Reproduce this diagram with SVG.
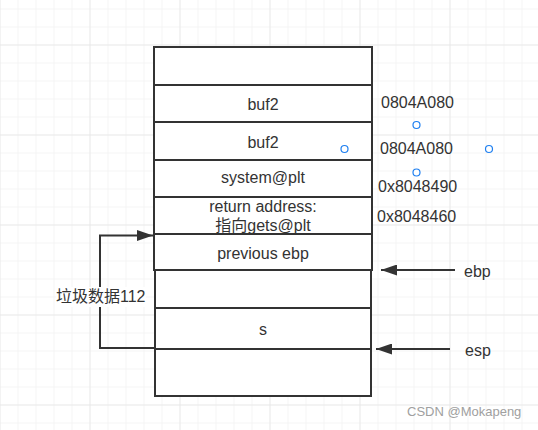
<svg xmlns="http://www.w3.org/2000/svg" width="538" height="430" viewBox="0 0 538 430">
<defs>
<pattern id="g" x="17.5" y="8.5" width="18" height="18" patternUnits="userSpaceOnUse">
<path d="M0 0H18M0 0V18" fill="none" stroke="#ececec" stroke-width="1"/>
</pattern>
<pattern id="G" x="89.5" y="44.5" width="90" height="90" patternUnits="userSpaceOnUse">
<path d="M0 0H90M0 0V90" fill="none" stroke="#e0e0e0" stroke-width="1"/>
</pattern>
<marker id="ah" viewBox="0 0 16 11" refX="16" refY="5.5" markerWidth="16" markerHeight="11" markerUnits="userSpaceOnUse" orient="auto">
<path d="M0 0L16 5.5L0 11Z" fill="#333"/>
</marker>
</defs>
<style>
.b{fill:#fff;stroke:#333;stroke-width:2}
.t{font-family:"Liberation Sans","Noto Sans CJK SC",sans-serif;font-size:16px;fill:#333;text-anchor:middle}
.a{font-family:"Liberation Sans","Noto Sans CJK SC",sans-serif;font-size:16px;fill:#333}
.c{fill:#fff;stroke:#1e7ff0;stroke-width:1.2}
.l{fill:none;stroke:#333;stroke-width:2}
</style>
<rect width="538" height="430" fill="#fff"/>
<rect width="538" height="430" fill="url(#g)"/>
<rect width="538" height="430" fill="url(#G)"/>
<g id="n0"><rect class="b" x="154" y="47" width="218" height="38"/></g>
<g id="n1"><rect class="b" x="154" y="85" width="218" height="37"/><text class="t" x="263" y="110">buf2</text></g>
<g id="n2"><rect class="b" x="154" y="122" width="218" height="38"/><text class="t" x="263" y="148">buf2</text></g>
<g id="n3"><rect class="b" x="154" y="160" width="218" height="37"/><text class="t" x="263" y="183">system@plt</text></g>
<g id="n4"><rect class="b" x="154" y="197" width="218" height="37"/><text class="t" x="263" y="212">return address:</text><text class="t" x="263" y="231">指向gets@plt</text></g>
<g id="n5"><rect class="b" x="154" y="234" width="218" height="36"/><text class="t" x="263" y="259">previous ebp</text></g>
<g id="n6"><rect class="b" x="155" y="270" width="216" height="38"/></g>
<g id="n7"><rect class="b" x="155" y="308" width="216" height="41"/><text class="t" x="263" y="335">s</text></g>
<g id="n8"><rect class="b" x="155" y="349" width="216" height="47"/></g>
<g id="connectors">
<path class="l" d="M154 348H100V235.5H153" marker-end="url(#ah)"/>
<path class="l" d="M455 270H381" marker-end="url(#ah)"/>
<path class="l" d="M450 349H376" marker-end="url(#ah)"/>
</g>
<g id="label-junk"><rect x="56" y="287" width="90" height="20" fill="#fff"/><text class="a" x="56" y="302">垃圾数据112</text></g>
<g id="labels">
<text class="a" x="381" y="108">0804A080</text>
<text class="a" x="380" y="154">0804A080</text>
<text class="a" x="378" y="192">0x8048490</text>
<text class="a" x="377" y="222">0x8048460</text>
<text class="a" x="464" y="277">ebp</text>
<text class="a" x="465" y="356">esp</text>
</g>
<g id="handles">
<circle class="c" cx="416.5" cy="125" r="3.5"/>
<circle class="c" cx="344.5" cy="149" r="3.5"/>
<circle class="c" cx="489" cy="149" r="3.5"/>
<circle class="c" cx="416.5" cy="172.5" r="3.5"/>
</g>
<text x="407" y="416" font-family="'Liberation Sans','Noto Sans CJK SC',sans-serif" font-size="13" fill="#a0a0a0">CSDN @Mokapeng</text>
</svg>
